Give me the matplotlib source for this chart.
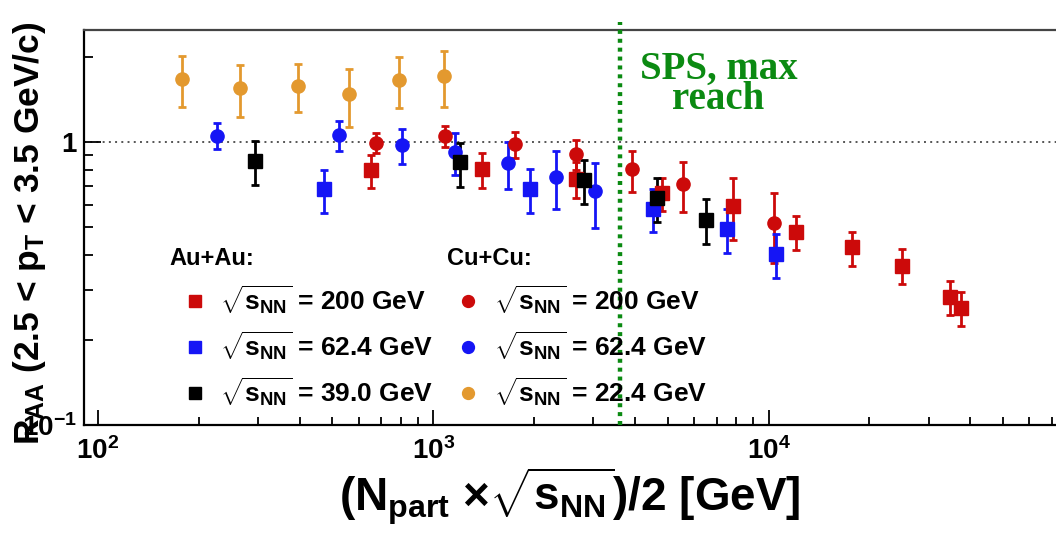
import numpy as np
import matplotlib
matplotlib.use("Agg")
import matplotlib.pyplot as plt
from matplotlib.ticker import FixedLocator, NullFormatter

plt.rcParams['font.family'] = ['Liberation Sans', 'DejaVu Sans']
plt.rcParams['font.weight'] = 'bold'
plt.rcParams['axes.labelweight'] = 'bold'
plt.rcParams['mathtext.fontset'] = 'custom'
plt.rcParams['mathtext.rm'] = 'Liberation Sans:bold'
plt.rcParams['mathtext.it'] = 'Liberation Sans:bold'
plt.rcParams['mathtext.bf'] = 'Liberation Sans:bold'
plt.rcParams['mathtext.sf'] = 'Liberation Sans:bold'

# Au+Au 200 GeV (squares)
au200_x = [652, 1398, 2667, 4816, 7844, 12094, 17690, 24950, 34700, 37400]
au200_y = [0.796, 0.803, 0.738, 0.662, 0.594, 0.482, 0.425, 0.366, 0.284, 0.259]
au200_hi = [0.900, 0.912, 0.852, 0.748, 0.748, 0.548, 0.482, 0.418, 0.324, 0.294]
au200_lo = [0.686, 0.689, 0.636, 0.571, 0.450, 0.415, 0.365, 0.315, 0.245, 0.223]

# Au+Au 62.4 GeV
au62_x = [471, 1948, 4514, 7526, 10494]
au62_y = [0.681, 0.682, 0.580, 0.491, 0.402]
au62_hi = [0.796, 0.801, 0.681, 0.578, 0.472]
au62_lo = [0.563, 0.563, 0.480, 0.404, 0.331]

# Au+Au 39 GeV
au39_x = [293, 1204, 2810, 4654, 6517]
au39_y = [0.859, 0.848, 0.734, 0.636, 0.530]
au39_hi = [1.008, 0.994, 0.864, 0.748, 0.627]
au39_lo = [0.705, 0.695, 0.602, 0.523, 0.436]

# Cu+Cu 200 GeV (circles)
cu200_x = [674, 1086, 1757, 2667, 3917, 5560, 10370]
cu200_y = [0.989, 1.053, 0.981, 0.905, 0.801, 0.710, 0.516]
cu200_hi = [1.073, 1.139, 1.082, 1.016, 0.929, 0.848, 0.659]
cu200_lo = [0.914, 0.958, 0.876, 0.796, 0.667, 0.567, 0.373]

# Cu+Cu 62.4 GeV
cu62_x = [226, 523, 806, 1158, 1667, 2323, 3045]
cu62_y = [1.053, 1.059, 0.978, 0.920, 0.845, 0.750, 0.671]
cu62_hi = [1.164, 1.186, 1.114, 1.073, 1.000, 0.929, 0.845]
cu62_lo = [0.942, 0.932, 0.836, 0.764, 0.682, 0.580, 0.496]

# Cu+Cu 22.4 GeV
cu22_x = [178, 265, 396, 561, 788, 1079]
cu22_y = [1.670, 1.548, 1.578, 1.474, 1.656, 1.715]
cu22_hi = [2.010, 1.880, 1.887, 1.816, 1.992, 2.102]
cu22_lo = [1.330, 1.229, 1.273, 1.133, 1.322, 1.333]

sps_x = 3610

RED = '#cc0a0a'
BLUE = '#1515f5'
BLACK = '#000000'
ORANGE = '#e3992f'
GREEN = '#0b8a12'

fig = plt.figure(figsize=(10.56, 5.34), dpi=100)
ax = fig.add_axes([84 / 1056, 109 / 534, 972 / 1056, 395 / 534])


def draw(x, y, hi, lo, color, marker):
    y = np.array(y)
    err = [y - np.array(lo), np.array(hi) - y]
    return ax.errorbar(x, y, yerr=err, fmt=marker, color=color, ms=9.5,
                       elinewidth=2, capsize=2.8, capthick=2)


ax.axhline(1.0, color='#555555', lw=1.4, ls=(0, (1, 2.2)), zorder=1)

h_cu22 = draw(cu22_x, cu22_y, cu22_hi, cu22_lo, ORANGE, 'o')
h_cu200 = draw(cu200_x, cu200_y, cu200_hi, cu200_lo, RED, 'o')
h_au200 = draw(au200_x, au200_y, au200_hi, au200_lo, RED, 's')
h_cu62 = draw(cu62_x, cu62_y, cu62_hi, cu62_lo, BLUE, 'o')
h_au62 = draw(au62_x, au62_y, au62_hi, au62_lo, BLUE, 's')
h_au39 = draw(au39_x, au39_y, au39_hi, au39_lo, BLACK, 's')

ax.axvline(sps_x, ymin=0, ymax=1.02, color=GREEN, lw=3.2, ls=(0, (0.9, 1.1)),
           clip_on=False, zorder=3)
ax.text(7096, 0.862, 'SPS, max\nreach', transform=ax.get_xaxis_transform(),
        ha='center', va='center', color=GREEN, fontsize=28, fontweight='bold',
        family='Liberation Serif', linespacing=0.78)

ax.set_xscale('log')
ax.set_yscale('log')
ax.set_xlim(90.8, 72000)
ax.set_ylim(0.1, 2.49)

ax.set_xticks([100, 1000, 10000], [r'$10^{2}$', r'$10^{3}$', r'$10^{4}$'])
ax.xaxis.set_minor_locator(FixedLocator(
    [m * 10 ** e for e in (2, 3, 4) for m in range(2, 10)]))
ax.xaxis.set_minor_formatter(NullFormatter())
ax.set_yticks([0.1, 1], [r'$10^{-1}$', '1'])
ax.yaxis.set_minor_locator(FixedLocator([0.2, 0.3, 0.4, 0.5, 0.6, 0.7, 0.8, 0.9, 2]))
ax.yaxis.set_minor_formatter(NullFormatter())

ax.tick_params(axis='x', which='major', direction='in', length=11, width=1.3,
               labelsize=20, pad=9)
ax.tick_params(axis='x', which='minor', direction='in', length=5.5, width=1.3)
ax.tick_params(axis='y', which='major', direction='in', length=12, width=1.3,
               labelsize=20, pad=5)
ax.tick_params(axis='y', which='minor', direction='in', length=6.5, width=1.3)
for s in ('left', 'bottom', 'top'):
    ax.spines[s].set_linewidth(1.6)
ax.spines['top'].set_color('#444444')
ax.spines['right'].set_visible(False)

ax.set_ylabel(r'R$_{\mathrm{AA}}$ (2.5 < p$_{\mathrm{T}}$ < 3.5 GeV/c)',
              fontsize=25.5, fontweight='bold')
ax.yaxis.set_label_coords(-0.037, 0.486)
ax.set_xlabel(r'(N$_{\mathrm{part}}$ $\times\sqrt{\mathrm{s}_{\mathrm{NN}}}$)/2 [GeV]',
              fontsize=33, fontweight='bold', labelpad=0)

sq = r'$\sqrt{\mathrm{s}_{\mathrm{NN}}}$'
leg1 = ax.legend([h_au200.lines[0], h_au62.lines[0], h_au39.lines[0]],
                 [sq + ' = 200 GeV', sq + ' = 62.4 GeV', sq + ' = 39.0 GeV'],
                 title='Au+Au:', loc='upper left', bbox_to_anchor=(0.088, 0.45),
                 frameon=False, fontsize=19, title_fontsize=17, borderpad=0,
                 borderaxespad=0, handlelength=1.9, handletextpad=0.0,
                 labelspacing=0.5, alignment='left', markerscale=0.9)
leg1.get_title().set_fontweight('bold')
ax.add_artist(leg1)
leg2 = ax.legend([h_cu200.lines[0], h_cu62.lines[0], h_cu22.lines[0]],
                 [sq + ' = 200 GeV', sq + ' = 62.4 GeV', sq + ' = 22.4 GeV'],
                 title='Cu+Cu:', loc='upper left', bbox_to_anchor=(0.373, 0.45),
                 frameon=False, fontsize=19, title_fontsize=17, borderpad=0,
                 borderaxespad=0, handlelength=1.6, handletextpad=0.2,
                 labelspacing=0.5, alignment='left', markerscale=0.9)
leg2.get_title().set_fontweight('bold')

fig.savefig('out.png', dpi=100)
